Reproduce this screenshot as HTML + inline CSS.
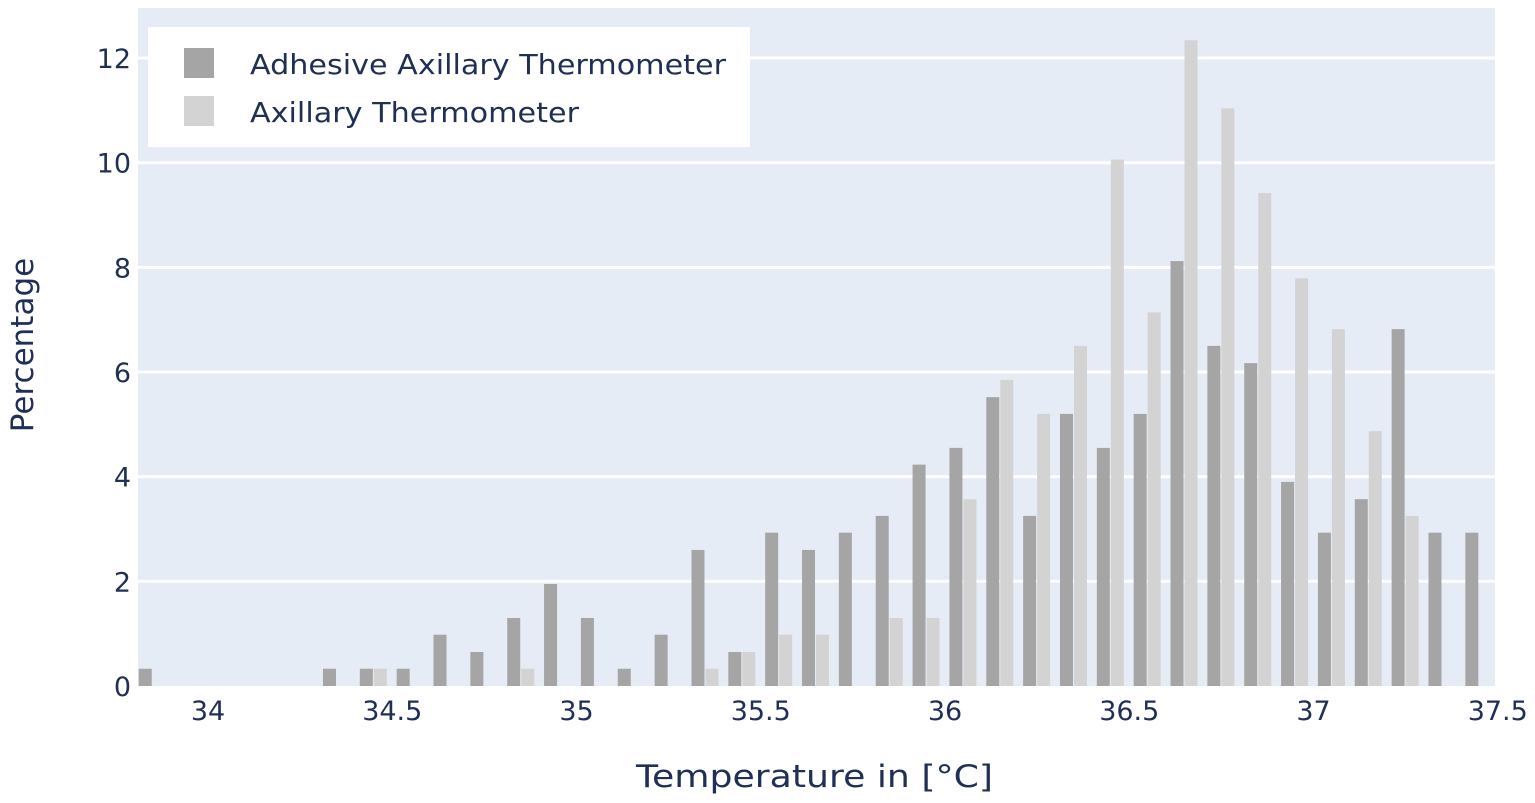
<!DOCTYPE html>
<html><head><meta charset="utf-8"><style>
html,body{margin:0;padding:0;background:#fff;}
svg{display:block;font-family:"DejaVu Sans","Liberation Sans",sans-serif;}
</style></head><body>
<svg id="s" width="1535" height="803" xmlns="http://www.w3.org/2000/svg">
<rect x="138" y="8" width="1357" height="678" fill="#e5ecf6"/>
<g id="grid"></g>
<g id="bars"></g>
<g id="txt" fill="#1f2f55" font-size="27"></g>
<rect x="148" y="27" width="602" height="120" fill="#fff"/>
<rect x="184" y="48" width="30" height="30" fill="#a5a5a5"/>
<rect x="184" y="96" width="30" height="30" fill="#d3d3d3"/>
<text x="250" y="74" font-size="28" fill="#1f2f55" textLength="476" lengthAdjust="spacingAndGlyphs">Adhesive Axillary Thermometer</text>
<text x="250" y="122" font-size="28" fill="#1f2f55" textLength="329" lengthAdjust="spacingAndGlyphs">Axillary Thermometer</text>
<text x="636" y="787" font-size="31" fill="#1f2f55" textLength="357" lengthAdjust="spacingAndGlyphs">Temperature in [°C]</text>
<text transform="translate(33,345) rotate(-90)" font-size="31" fill="#1f2f55" text-anchor="middle">Percentage</text>
</svg>
<script>
var NS="http://www.w3.org/2000/svg";
function el(p,t,a,txt){var e=document.createElementNS(NS,t);for(var k in a)e.setAttribute(k,a[k]);if(txt!==undefined)e.textContent=txt;document.getElementById(p).appendChild(e);}
var y0=686,py=52.33;
for(var v=2;v<=12;v+=2){el("grid","rect",{x:138,y:y0-v*py-1.5,width:1357,height:3,fill:"#fff"});}
for(var v=0;v<=12;v+=2){el("txt","text",{x:131,y:y0-v*py+10,"text-anchor":"end"},String(v));}
var xt=[34,34.5,35,35.5,36,36.5,37,37.5];
xt.forEach(function(t){el("txt","text",{x:208+(t-34)*368.5,y:720,"text-anchor":"middle"},String(t));});
var d=[[33.85,.33,0],[34.35,.33,0],[34.45,.33,.33],[34.55,.33,0],[34.65,.98,0],[34.75,.65,0],[34.85,1.3,.33],[34.95,1.95,0],[35.05,1.3,0],[35.15,.33,0],[35.25,.98,0],[35.35,2.6,.33],[35.45,.65,.65],[35.55,2.93,.98],[35.65,2.6,.98],[35.75,2.93,0],[35.85,3.25,1.3],[35.95,4.23,1.3],[36.05,4.55,3.57],[36.15,5.52,5.85],[36.25,3.25,5.2],[36.35,5.2,6.5],[36.45,4.55,10.06],[36.55,5.2,7.14],[36.65,8.12,12.34],[36.75,6.5,11.04],[36.85,6.17,9.42],[36.95,3.9,7.79],[37.05,2.93,6.82],[37.15,3.57,4.87],[37.25,6.82,3.25],[37.35,2.93,0],[37.45,2.93,0]];
d.forEach(function(r){var c=208+(r[0]-34)*368.5;
 if(r[1]>0){var x=Math.max(138,c-14);el("bars","rect",{x:x,y:y0-r[1]*py,width:c-1-x,height:r[1]*py,fill:"#a5a5a5"});}
 if(r[2]>0){el("bars","rect",{x:c,y:y0-r[2]*py,width:13,height:r[2]*py,fill:"#d3d3d3"});}
});
</script>
</body></html>
